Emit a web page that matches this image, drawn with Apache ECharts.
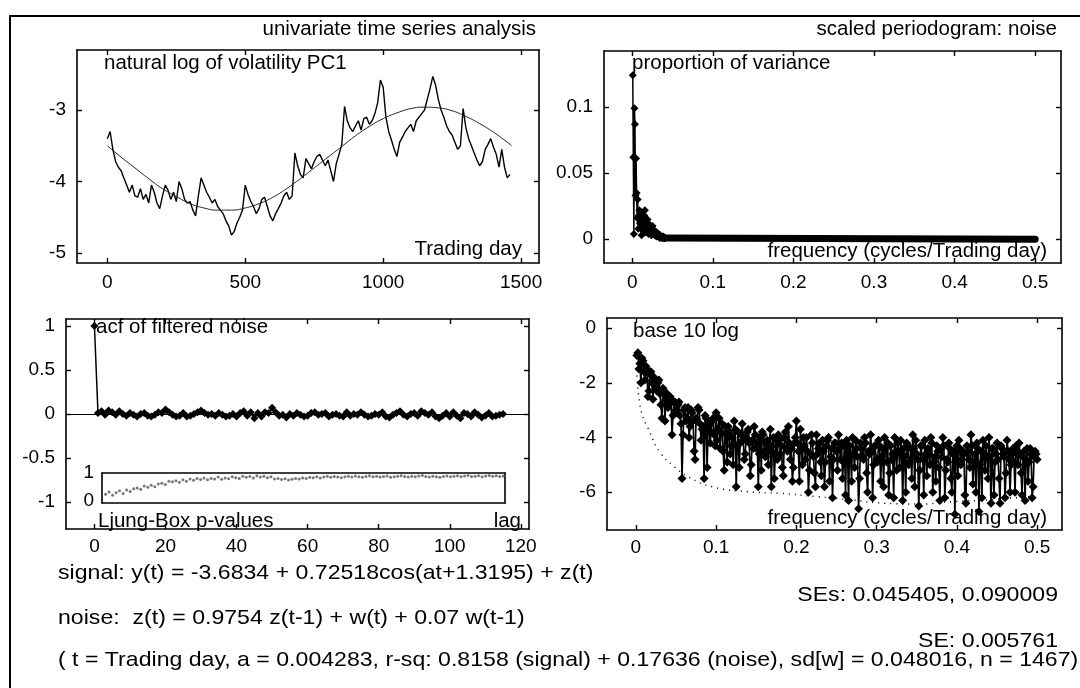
<!DOCTYPE html>
<html>
<head>
<meta charset="utf-8">
<title>univariate time series analysis</title>
<script src="https://cdn.jsdelivr.net/npm/echarts@6/dist/echarts.min.js"></script>
<style>
  html, body { margin: 0; padding: 0; background: #fff; }
  #chart { width: 1080px; height: 688px; }
</style>
</head>
<body>
<div id="chart"></div>
<script>
// ---- values ----
const nObs = 1467;

// top left: natural log of volatility PC1, one reading every 10 trading days
const volStep = 10;
const logVol = [
  -3.40, -3.30, -3.55, -3.72, -3.80, -3.85, -3.95, -4.05, -4.15, -4.05,
  -4.20, -4.22, -4.10, -4.25, -4.18, -4.30, -4.05, -4.15, -4.30, -4.38,
  -4.20, -4.05, -4.12, -4.25, -4.15, -4.28, -4.00, -4.10, -4.25, -4.30,
  -4.28, -4.40, -4.48, -4.20, -3.95, -4.05, -4.15, -4.22, -4.30, -4.25,
  -4.35, -4.40, -4.45, -4.55, -4.62, -4.75, -4.70, -4.58, -4.50, -4.40,
  -4.05, -4.18, -4.28, -4.35, -4.45, -4.38, -4.25, -4.22, -4.35, -4.48,
  -4.55, -4.45, -4.38, -4.30, -4.20, -4.15, -4.25, -4.20, -3.60, -3.78,
  -3.90, -3.95, -3.68, -3.75, -3.82, -3.72, -3.65, -3.62, -3.70, -3.78,
  -3.70, -3.85, -4.00, -3.75, -3.62, -3.48, -2.95, -3.15, -3.25, -3.30,
  -3.22, -3.15, -3.28, -3.12, -3.10, -3.20, -3.15, -3.05, -2.90, -2.58,
  -2.68, -3.10, -3.30, -3.42, -3.55, -3.65, -3.45, -3.38, -3.30, -3.25,
  -3.20, -3.30, -3.15, -3.10, -3.05, -3.00, -2.85, -2.70, -2.53, -2.65,
  -2.85, -3.00, -3.10, -3.22, -3.30, -3.35, -3.45, -3.55, -3.50, -2.98,
  -3.25, -3.40, -3.50, -3.60, -3.70, -3.78, -3.72, -3.55, -3.48, -3.40,
  -3.52, -3.62, -3.80, -3.55, -3.80, -3.95, -3.90
];
// fitted signal curve
const fitDays = [0, 50, 100, 150, 200, 250, 300, 350, 400, 450, 500, 550, 600, 650, 700,
  750, 800, 850, 900, 950, 1000, 1050, 1100, 1150, 1200, 1250, 1300, 1350, 1400, 1450, 1466];
const fitVals = [-3.50, -3.66, -3.81, -3.96, -4.10, -4.21, -4.31, -4.37, -4.40, -4.40, -4.37,
  -4.31, -4.22, -4.10, -3.96, -3.81, -3.66, -3.51, -3.36, -3.23, -3.12, -3.04, -2.98, -2.96,
  -2.97, -3.01, -3.09, -3.19, -3.31, -3.45, -3.50];
const dayTicks = [0, 500, 1000, 1500];
const volTicks = [-5, -4, -3];

// top right: scaled periodogram, first 60 Fourier frequencies (k / n)
const propVar = [
  0.124, 0.062, 0.004, 0.099, 0.087, 0.033, 0.061, 0.035, 0.016, 0.030,
  0.008, 0.018, 0.022, 0.012, 0.020, 0.008, 0.003, 0.010, 0.016, 0.012,
  0.006, 0.018, 0.022, 0.010, 0.005, 0.012, 0.008, 0.015, 0.006, 0.004,
  0.009, 0.011, 0.005, 0.008, 0.003, 0.006, 0.010, 0.004, 0.007, 0.005,
  0.003, 0.006, 0.004, 0.002, 0.005, 0.003, 0.002, 0.004, 0.002, 0.001,
  0.003, 0.002, 0.001, 0.002, 0.001, 0.001, 0.002, 0.001, 0.001, 0.001
];
// the rest of the band sits on zero
const propTail = [[0.041, 0.001], [0.5, 0]];
const freqTicks = [0, 0.1, 0.2, 0.3, 0.4, 0.5];
const propTicks = [0, 0.05, 0.1];

// bottom left: acf of filtered noise, lags 0..115
const acf = [
  1.00,
  0.01, 0.03, -0.01, 0.04, 0.02, -0.01, 0.03, 0.00, -0.02, 0.01,
  -0.01, -0.03, 0.00, 0.01, -0.02, -0.03, -0.01, 0.02, 0.01, 0.05,
  0.02, -0.01, -0.03, -0.02, 0.01, -0.03, -0.02, 0.00, 0.02, 0.04,
  0.01, -0.01, 0.00, -0.02, 0.01, -0.01, -0.03, -0.02, 0.00, -0.03,
  0.01, 0.03, -0.02, 0.02, -0.05, 0.01, -0.03, 0.02, 0.01, 0.07,
  0.02, -0.02, -0.01, -0.04, 0.00, -0.02, 0.01, -0.01, -0.03, -0.02,
  0.01, 0.02, -0.01, 0.00, 0.01, -0.03, -0.01, 0.00, -0.02, -0.03,
  0.02, -0.02, 0.00, -0.01, 0.02, -0.01, -0.03, -0.02, 0.00, -0.01,
  0.02, -0.03, -0.04, -0.01, 0.01, 0.03, -0.01, -0.03, 0.00, 0.01,
  -0.02, 0.03, 0.01, -0.01, 0.02, -0.03, -0.05, -0.02, 0.01, -0.03,
  0.02, -0.02, -0.05, 0.01, 0.00, -0.03, 0.02, -0.01, -0.04, -0.02,
  0.01, -0.03, -0.02, -0.01, 0.00
];
const lagTicks = [0, 20, 40, 60, 80, 100, 120];
const acfTicks = [-1, -0.5, 0, 0.5, 1];

// inset: Ljung-Box p-values, lags 2..115
const pFirstLag = 2;
const pValues = [
  0.22, 0.30, 0.18, 0.28, 0.35, 0.25, 0.38, 0.32, 0.42,
  0.45, 0.40, 0.52, 0.48, 0.55, 0.50, 0.60, 0.62, 0.58, 0.70,
  0.68, 0.72, 0.66, 0.75, 0.70, 0.78, 0.73, 0.80, 0.76, 0.82,
  0.75, 0.80, 0.78, 0.85, 0.77, 0.82, 0.79, 0.86, 0.83, 0.80,
  0.88, 0.84, 0.87, 0.82, 0.90, 0.85, 0.88, 0.83, 0.86, 0.78,
  0.80, 0.76, 0.79, 0.74, 0.77, 0.80, 0.78, 0.82, 0.80, 0.84,
  0.83, 0.86, 0.82, 0.85, 0.88, 0.84, 0.87, 0.85, 0.83, 0.86,
  0.88, 0.85, 0.89, 0.86, 0.84, 0.87, 0.90, 0.86, 0.88, 0.85,
  0.87, 0.89, 0.84, 0.86, 0.88, 0.90, 0.87, 0.85, 0.88, 0.86,
  0.89, 0.91, 0.87, 0.85, 0.88, 0.86, 0.84, 0.87, 0.89, 0.86,
  0.88, 0.90, 0.86, 0.89, 0.91, 0.87, 0.88, 0.90, 0.86, 0.89,
  0.91, 0.88, 0.90, 0.87, 0.89
];
const pTicks = [0, 1];

// bottom right: base 10 log of the periodogram, read at every 0.00125 cycles/day;
// logPgramA at (i + 1) * 0.0025, logPgramB half a step earlier
const logStep = 0.0025;
const logPgramA = [
  -0.9, -1.3, -1.1, -1.6, -1.4, -2.5, -1.7, -2.0, -1.8, -2.2,
  -2.0, -2.4, -3.3, -2.3, -2.6, -2.9, -2.5, -3.9, -2.7, -3.0,
  -2.8, -3.2, -5.5, -3.0, -3.4, -2.9, -3.6, -3.1, -4.5, -3.3,
  -2.9, -3.5, -3.7, -5.5, -3.3, -3.6, -4.2, -3.4, -3.9, -3.1,
  -3.7, -4.4, -3.5, -5.2, -3.9, -3.6, -4.6, -4.0, -3.4, -5.8,
  -3.8, -4.2, -3.5, -4.8, -4.0, -3.7, -5.4, -4.1, -3.6, -4.4,
  -5.8, -4.0, -3.8, -4.5, -4.2, -5.0, -3.7, -4.3, -5.5, -4.1,
  -3.9, -4.6, -5.1, -4.0, -4.4, -3.6, -4.8, -5.6, -4.2, -3.4,
  -4.5, -3.7, -5.0, -4.3, -4.0, -6.0, -4.6, -4.2, -5.3, -3.9,
  -4.4, -4.9, -4.1, -5.8, -4.3, -4.0, -4.7, -6.2, -4.2, -4.5,
  -3.9, -4.8, -5.5, -4.3, -4.1, -6.3, -4.6, -4.0, -5.1, -4.4,
  -6.6, -4.2, -4.7, -4.0, -5.3, -4.5, -3.9, -6.2, -4.3, -4.8,
  -4.1, -5.6, -4.4, -4.0, -4.9, -6.1, -4.3, -4.6, -4.0, -5.2,
  -4.5, -4.1, -6.3, -4.7, -4.2, -5.0, -4.4, -3.9, -5.8, -4.6,
  -6.5, -4.3, -4.8, -4.1, -5.4, -4.6, -4.0, -6.0, -4.7, -4.3,
  -5.1, -4.4, -4.0, -6.2, -4.8, -4.2, -5.5, -4.6, -6.8, -4.3,
  -4.1, -5.0, -4.5, -6.1, -4.3, -4.8, -3.9, -5.7, -4.6, -4.2,
  -6.7, -4.5, -4.1, -5.2, -4.7, -4.0, -6.4, -4.4, -4.9, -4.2,
  -5.5, -4.3, -4.6, -6.2, -4.1, -4.8, -5.0, -4.4, -6.0, -4.5,
  -4.2, -5.3, -4.7, -6.3, -4.4, -4.9, -4.6, -5.8, -4.5, -4.8
];
const logPgramB = [
  -1.0, -1.5, -2.0, -1.2, -1.9, -1.5, -2.3, -1.6, -2.6, -2.1,
  -2.3, -1.9, -2.8, -2.2, -3.4, -2.4, -2.8, -2.6, -3.2, -2.7,
  -3.1, -2.7, -3.5, -3.9, -2.9, -3.3, -4.0, -3.0, -3.4, -4.8,
  -3.4, -3.0, -4.1, -3.6, -3.2, -5.1, -3.5, -3.8, -3.3, -4.3,
  -4.1, -3.3, -3.8, -4.5, -3.6, -4.9, -3.8, -4.3, -5.0, -3.7,
  -4.3, -5.1, -3.9, -4.1, -4.6, -3.8, -4.2, -5.0, -4.4, -3.9,
  -4.2, -4.6, -5.2, -3.9, -4.7, -4.1, -4.4, -5.8, -4.0, -4.6,
  -4.8, -4.1, -4.3, -5.4, -3.8, -4.5, -4.2, -4.4, -5.1, -4.0,
  -4.2, -5.6, -4.4, -4.0, -4.8, -4.5, -5.2, -3.9, -4.7, -5.8,
  -4.6, -4.2, -5.4, -4.5, -4.9, -4.1, -5.6, -4.4, -4.8, -4.2,
  -5.2, -4.4, -4.2, -4.9, -6.1, -4.5, -4.3, -5.6, -4.6, -4.1,
  -4.7, -5.5, -4.4, -4.8, -4.2, -6.0, -4.6, -4.5, -5.0, -4.3,
  -4.9, -4.3, -4.7, -5.8, -4.4, -4.2, -5.3, -4.8, -6.2, -4.5,
  -4.2, -5.1, -4.6, -4.4, -6.0, -4.3, -4.9, -5.5, -4.4, -4.1,
  -4.8, -5.2, -4.3, -6.1, -4.6, -4.4, -5.0, -4.2, -4.9, -5.6,
  -4.5, -6.3, -4.7, -4.3, -5.2, -4.9, -4.4, -6.0, -4.5, -4.8,
  -5.4, -4.4, -4.8, -4.6, -6.4, -4.5, -5.1, -4.3, -4.9, -6.0,
  -4.4, -5.0, -6.2, -4.6, -4.3, -5.5, -4.7, -4.4, -6.1, -4.6,
  -4.8, -6.4, -4.4, -4.7, -5.3, -4.5, -6.0, -4.6, -4.9, -4.3,
  -5.0, -4.6, -6.1, -4.5, -4.8, -5.6, -4.4, -6.2, -4.7, -4.6
];
// dotted lower curve
const lowFreq = [0.001, 0.005, 0.018, 0.031, 0.048, 0.065, 0.095, 0.139, 0.18, 0.225, 0.268, 0.31, 0.354, 0.397, 0.44, 0.49];
const lowVals = [-1.3, -2.8, -3.85, -4.58, -5.07, -5.43, -5.8, -5.98, -6.04, -6.16, -6.28, -6.4, -6.43, -6.34, -6.28, -6.16];
const logTicks = [-6, -4, -2, 0];

// ---- chart ----
const FONT = "'Liberation Sans', Arial, Helvetica, sans-serif";
const TICK_FS = 19;
const NOTE_FS = 20.5;
const BODY_FS = 21;
const BODY_STRETCH = 1.1;
const BLACK = '#000';

const grids = [
  { left: 77, top: 50, width: 462, height: 213 },   // volatility
  { left: 604, top: 51, width: 457, height: 212 },  // periodogram
  { left: 66, top: 319, width: 463, height: 210 },  // acf
  { left: 607, top: 318, width: 455, height: 212 }, // log periodogram
  { left: 102, top: 473, width: 403, height: 30 }   // Ljung-Box inset
];

function lineStyle(w) {
  return { color: BLACK, width: w };
}

function makeAxis(dim, grid, min, max, ticks, opts) {
  const o = opts || {};
  const base = {
    type: 'value',
    gridIndex: grid,
    min: min,
    max: max,
    splitLine: { show: false },
    axisLine: { show: true, onZero: false, lineStyle: lineStyle(1.6) },
    axisTick: {
      show: !o.noTicks, inside: true, length: 5,
      customValues: ticks, lineStyle: lineStyle(1.4)
    },
    axisLabel: { show: false }
  };
  const main = Object.assign({}, base, {
    position: dim === 'x' ? 'bottom' : 'left',
    axisLabel: {
      show: true, customValues: ticks, color: BLACK,
      fontSize: TICK_FS, fontFamily: FONT, margin: o.margin || 9,
      formatter: v => String(v)
    }
  });
  const other = Object.assign({}, base, { position: dim === 'x' ? 'top' : 'right' });
  return [main, other];
}

const xAxis = [].concat(
  makeAxis('x', 0, -110, 1565, dayTicks, { margin: 10 }),
  makeAxis('x', 1, -0.035, 0.532, freqTicks, { margin: 10 }),
  makeAxis('x', 2, -8, 122.3, lagTicks, { margin: 8 }),
  makeAxis('x', 3, -0.036, 0.531, freqTicks, { margin: 8 }),
  makeAxis('x', 4, 1, 115.5, [], { noTicks: true })
);
xAxis[8].axisLabel.show = false;

const yAxis = [].concat(
  makeAxis('y', 0, -5.14, -2.16, volTicks, { margin: 11 }),
  makeAxis('y', 1, -0.018, 0.1424, propTicks, { margin: 11 }),
  makeAxis('y', 2, -1.31, 1.08, acfTicks, { margin: 11 }),
  makeAxis('y', 3, -7.38, 0.366, logTicks, { margin: 11 }),
  makeAxis('y', 4, -0.1, 1.0, pTicks, { noTicks: true, margin: 8 })
);

const volData = logVol.map((v, i) => [i * volStep, v]);
const fitData = fitDays.map((d, i) => [d, fitVals[i]]);
const propData = propVar.map((v, i) => [(i + 1) / nObs, v]);
const acfData = acf.map((v, i) => [i, v]);
const pData = pValues.map((v, i) => [i + pFirstLag, v]);
const logData = [];
logPgramA.forEach((v, i) => {
  logData.push([(i + 0.5) * logStep, logPgramB[i]]);
  logData.push([(i + 1) * logStep, v]);
});
const lowData = lowFreq.map((f, i) => [f, lowVals[i]]);

const series = [
  {
    type: 'line', xAxisIndex: 0, yAxisIndex: 0, data: volData,
    showSymbol: false, lineStyle: { color: BLACK, width: 1.4 }
  },
  {
    type: 'line', xAxisIndex: 0, yAxisIndex: 0, data: fitData, smooth: true,
    showSymbol: false, lineStyle: { color: '#222', width: 1 }
  },
  {
    type: 'line', xAxisIndex: 2, yAxisIndex: 2, data: propData,
    symbol: 'diamond', symbolSize: 8, itemStyle: { color: BLACK },
    lineStyle: { color: BLACK, width: 1.5 }
  },
  {
    type: 'line', xAxisIndex: 2, yAxisIndex: 2, data: propTail,
    showSymbol: false, lineStyle: { color: BLACK, width: 7, cap: 'round' }
  },
  {
    type: 'line', xAxisIndex: 4, yAxisIndex: 4, data: acfData,
    symbol: 'diamond', symbolSize: 8, itemStyle: { color: BLACK },
    lineStyle: { color: BLACK, width: 1.5 },
    markLine: {
      silent: true, symbol: 'none', label: { show: false },
      lineStyle: { color: BLACK, type: 'solid', width: 1 },
      data: [{ yAxis: 0 }]
    }
  },
  {
    type: 'scatter', xAxisIndex: 8, yAxisIndex: 8, data: pData,
    symbol: 'circle', symbolSize: 3, itemStyle: { color: '#555' }
  },
  {
    type: 'line', xAxisIndex: 6, yAxisIndex: 6, data: logData,
    symbol: 'diamond', symbolSize: 9, itemStyle: { color: BLACK },
    lineStyle: { color: BLACK, width: 1.7 }
  },
  {
    type: 'line', xAxisIndex: 6, yAxisIndex: 6, data: lowData, smooth: true,
    showSymbol: false, lineStyle: { color: BLACK, width: 1.5, type: [1, 5] }
  }
];

function note(text, x, y, align, size, stretch) {
  return {
    type: 'text', x: x, y: y, z: 100, scaleX: stretch || 1,
    style: {
      text: text, fill: BLACK, font: (size || NOTE_FS) + 'px ' + FONT,
      textAlign: align, align: align,
      textVerticalAlign: 'middle', verticalAlign: 'middle'
    }
  };
}

function body(text, x, y, align) {
  return note(text, x, y, align, BODY_FS, BODY_STRETCH);
}

const graphic = [
  { type: 'line', shape: { x1: 9, y1: 16, x2: 1080, y2: 16 }, style: { stroke: BLACK, lineWidth: 2 } },
  { type: 'line', shape: { x1: 10, y1: 16, x2: 10, y2: 688 }, style: { stroke: BLACK, lineWidth: 2 } },
  note('univariate time series analysis', 536, 29, 'right'),
  note('scaled periodogram: noise', 1057, 29, 'right'),
  note('natural log of volatility PC1', 104, 63, 'left'),
  note('Trading day', 522, 249, 'right'),
  note('proportion of variance', 632, 63, 'left'),
  note('frequency (cycles/Trading day)', 1047, 251, 'right'),
  note('acf of filtered noise', 96, 327, 'left'),
  note('Ljung-Box p-values', 98, 521, 'left'),
  note('lag', 521, 521, 'right'),
  note('base 10 log', 633, 331, 'left'),
  note('frequency (cycles/Trading day)', 1047, 518, 'right'),
  body('signal: y(t) = -3.6834 + 0.72518cos(at+1.3195) + z(t)', 58, 573, 'left'),
  body('SEs: 0.045405, 0.090009', 1058, 595, 'right'),
  body('noise:  z(t) = 0.9754 z(t-1) + w(t) + 0.07 w(t-1)', 58, 618, 'left'),
  body('SE: 0.005761', 1058, 641, 'right'),
  body('( t = Trading day, a = 0.004283, r-sq: 0.8158 (signal) + 0.17636 (noise), sd[w] = 0.048016, n = ' + nObs + ')', 58, 660, 'left')
];

const chart = echarts.init(document.getElementById('chart'), null, { renderer: 'canvas' });
chart.setOption({
  backgroundColor: '#fff',
  animation: false,
  grid: grids.map(g => Object.assign({ containLabel: false, outerBoundsMode: 'none' }, g)),
  xAxis: xAxis,
  yAxis: yAxis,
  series: series,
  graphic: graphic
});
</script>
</body>
</html>
